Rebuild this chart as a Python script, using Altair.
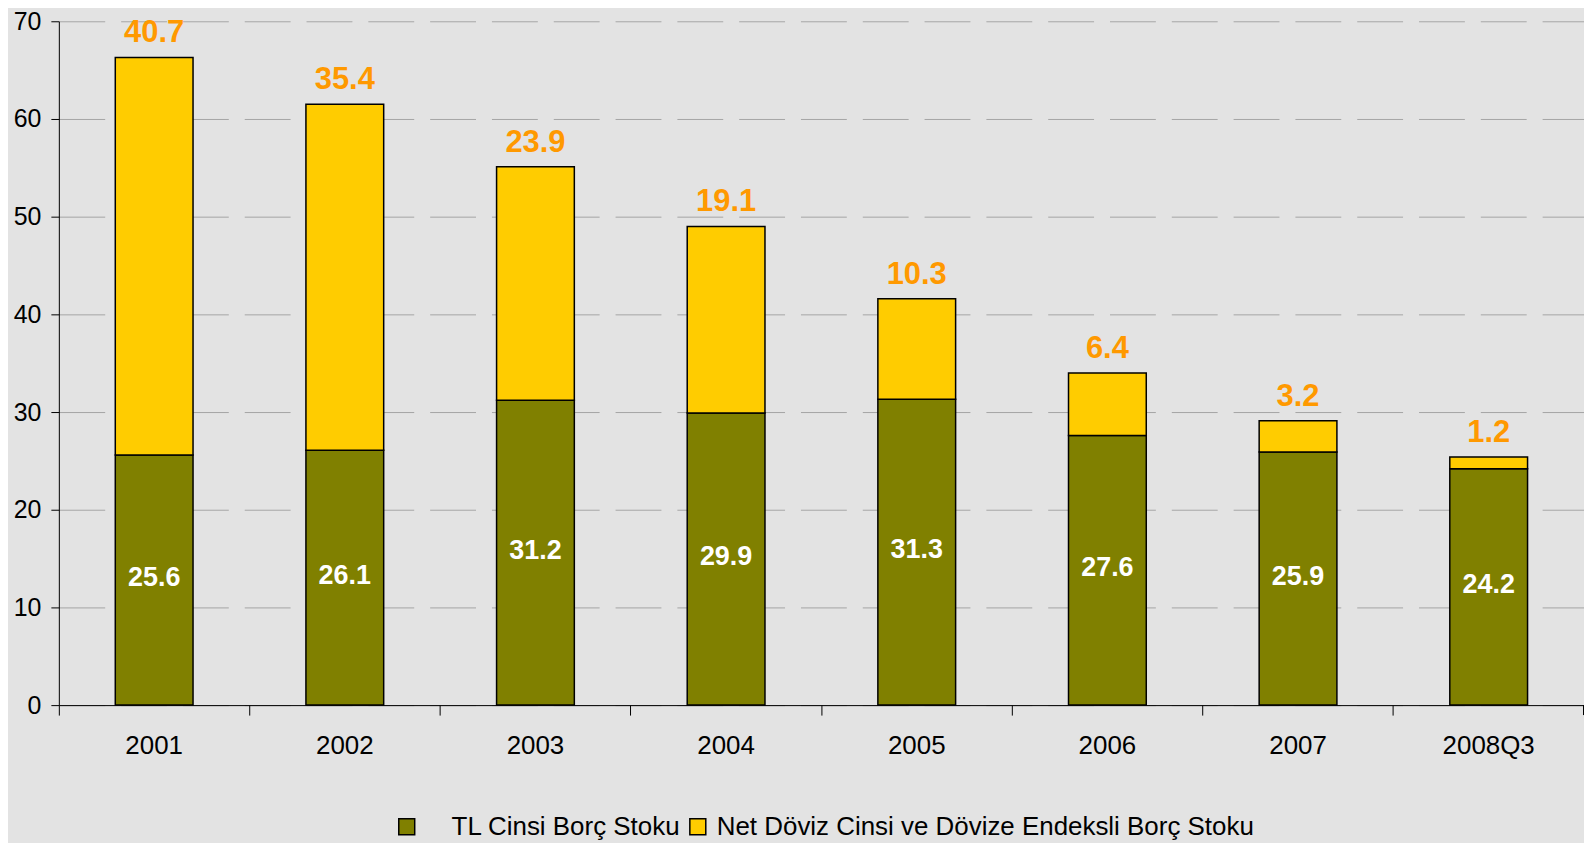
import altair as alt
import pandas as pd

years = ["2001", "2002", "2003", "2004", "2005", "2006", "2007", "2008Q3"]
tl_values = [25.6, 26.1, 31.2, 29.9, 31.3, 27.6, 25.9, 24.2]
fx_values = [40.7, 35.4, 23.9, 19.1, 10.3, 6.4, 3.2, 1.2]
series = ["TL Cinsi Borç Stoku", "Net Döviz Cinsi ve Dövize Endeksli Borç Stoku"]
colors = ["#808000", "#ffcc00"]
y_ticks = [0, 10, 20, 30, 40, 50, 60, 70]

long = pd.DataFrame({
    "year": years * 2,
    "series": [series[0]] * len(years) + [series[1]] * len(years),
    "value": tl_values + fx_values,
    "ord": [0] * len(years) + [1] * len(years),
})
wide = pd.DataFrame({"year": years, "tl": tl_values, "fx": fx_values})
wide["total"] = wide["tl"] + wide["fx"]
wide["mid"] = wide["tl"] / 2
wide["tl_lbl"] = wide["tl"].map(lambda v: f"{v:.1f}")
wide["fx_lbl"] = wide["fx"].map(lambda v: f"{v:.1f}")

W, H = 1530, 686
FONT = "Liberation Sans, Arial, Helvetica, sans-serif"

x_enc = alt.X(
    "year:N", sort=years, title=None,
    scale=alt.Scale(paddingInner=0, paddingOuter=0),
    axis=alt.Axis(bandPosition=0, tickSize=10, tickColor="black",
                  domainColor="black", labelFontSize=26, labelColor="black",
                  labelPadding=18, labelAngle=0, labelFont=FONT, grid=False),
)
y_scale = alt.Scale(domain=[0, 70], nice=False)

bars = alt.Chart(long).mark_bar(size=78, stroke="black", strokeWidth=1.5).encode(
    x=x_enc,
    y=alt.Y("value:Q", stack="zero", scale=y_scale, title=None,
            axis=alt.Axis(values=y_ticks, tickSize=8, tickColor="black", domainColor="black",
                          labelFontSize=25, labelColor="black", labelPadding=10, labelFont=FONT,
                          grid=True, gridDash=[46, 16], gridColor="#a6a6a6", gridWidth=1)),
    color=alt.Color("series:N", scale=alt.Scale(domain=series, range=colors),
                    legend=alt.Legend(orient="none", legendX=336, legendY=795, direction="horizontal",
                                      title=None, symbolType="square", symbolSize=256,
                                      symbolStrokeColor="black", symbolStrokeWidth=1.5,
                                      labelFontSize=26, labelFont=FONT, labelColor="black",
                                      columnPadding=4, labelOffset=6, labelLimit=900,
                                      labelExpr="datum.value == 'TL Cinsi Borç Stoku' ? '\u200b\u2003' + datum.label : datum.label")),
    order=alt.Order("ord:Q"),
)

top_lbl = alt.Chart(wide).mark_text(dy=-24, fontSize=31, fontWeight="bold", color="#ff9900", font=FONT).encode(
    x=alt.X("year:N", sort=years), y=alt.Y("total:Q", scale=y_scale), text="fx_lbl:N")

mid_lbl = alt.Chart(wide).mark_text(dy=-2, fontSize=27, fontWeight="bold", color="white", font=FONT).encode(
    x=alt.X("year:N", sort=years), y=alt.Y("mid:Q", scale=y_scale), text="tl_lbl:N")

end_tick = alt.Chart(pd.DataFrame({"a": [0]})).mark_rule(color="black", strokeWidth=1).encode(
    x=alt.value(W - 0.5), y=alt.value(H), y2=alt.value(H + 10))

chart = alt.layer(bars, top_lbl, mid_lbl, end_tick).properties(
    width=W, height=H, background="#e3e3e3",
    padding={"left": 51, "top": 12, "right": 0, "bottom": 137},
    autosize="none",
).configure_view(stroke=None)

chart.save("out.html", embed_options={"renderer": "svg", "actions": False})
